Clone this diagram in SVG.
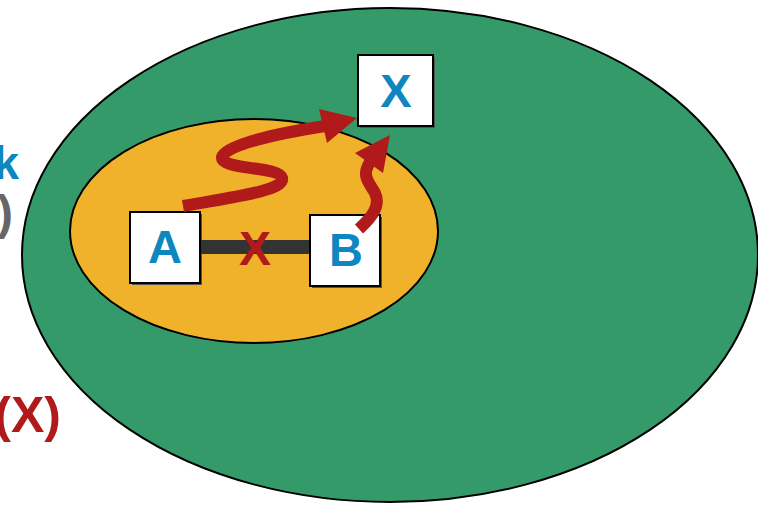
<svg xmlns="http://www.w3.org/2000/svg" width="758" height="505" viewBox="0 0 758 505">
<defs>
<style>
.lbl{font-family:"Liberation Sans",Arial,sans-serif;font-weight:bold;}
.box{fill:#ffffff;stroke:#000000;stroke-width:2;}
.shadow{fill:#555555;}
.node{fill:#0E86BF;font-size:47px;text-anchor:middle;}
.arrow{fill:none;stroke:#B01A1B;stroke-width:12;stroke-linecap:butt;}
.head{fill:#B01A1B;}
</style>
</defs>
<rect width="758" height="505" fill="#ffffff"/>
<g id="left-labels" class="lbl">
<text x="19" y="179" font-size="46" fill="#0E86BF" text-anchor="end">k</text>
<text x="13" y="229" font-size="48" fill="#666666" text-anchor="end">)</text>
<text x="61" y="432" font-size="50" fill="#B01A1B" text-anchor="end">(X)</text>
</g>
<g id="outer-region">
<ellipse cx="390" cy="255" rx="368" ry="247" fill="#359A6A" stroke="#000000" stroke-width="2"/>
</g>
<g id="inner-region">
<ellipse cx="254" cy="231" rx="184" ry="112" fill="#EFB22A" stroke="#000000" stroke-width="2"/>
</g>
<g id="node-A">
<rect class="shadow" x="132" y="214" width="70" height="71"/>
<rect class="box" x="130" y="212" width="70" height="71"/>
<text class="lbl node" x="165" y="263">A</text>
</g>
<g id="node-B">
<rect class="shadow" x="312" y="217" width="70" height="71"/>
<rect class="box" x="310" y="215" width="70" height="71"/>
<text class="lbl node" x="346" y="266">B</text>
</g>
<g id="node-X">
<rect class="shadow" x="360" y="57" width="75" height="71"/>
<rect class="box" x="358" y="55" width="75" height="71"/>
<text class="lbl node" x="396" y="107">X</text>
</g>
<g id="connectors">
<rect x="201" y="240" width="108" height="14" fill="#333333"/>
<text class="lbl" x="255" y="265" font-size="48" fill="#B01A1B" text-anchor="middle">X</text>
<path class="arrow" d="M183,206 C240,196 285,190 282,178 C279,166 220,170 222,157 C224,145 280,133 325,126"/>
<polygon class="head" points="357,118 319,109 327,143"/>
<path class="arrow" d="M359,229 C372,217 381,206 375,193 C369,182 361,176 370,162"/>
<polygon class="head" points="390,135 355,153 383,173"/>
</g>
</svg>
